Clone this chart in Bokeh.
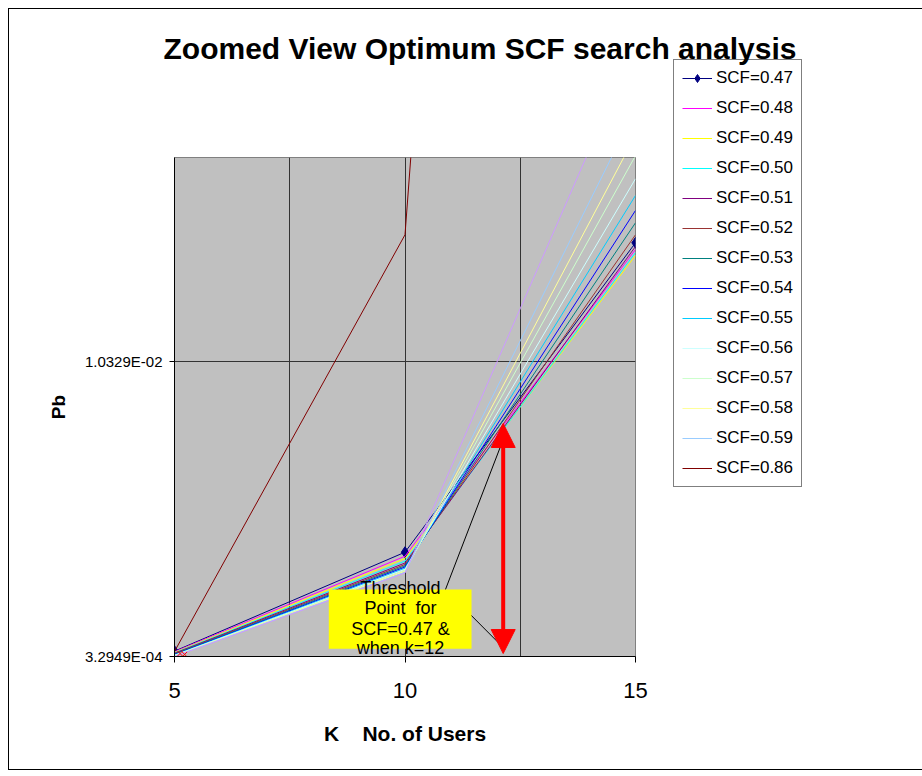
from bokeh.plotting import figure
from bokeh.embed import file_html
from bokeh.resources import INLINE
from bokeh.models import (Range1d, FixedTicker, CustomJSTickFormatter, Legend, LegendItem,
                          Label, BoxAnnotation, Arrow, NormalHead, Title)

# ---------------- data ----------------
k_users = [5, 10, 15]

pb_047 = [5.10e-4, 3.865e-3, 1.4353e-2]
pb_048 = [4.90e-4, 3.729e-3, 1.4126e-2]
pb_049 = [4.70e-4, 3.652e-3, 1.3923e-2]
pb_050 = [4.55e-4, 3.560e-3, 1.4024e-2]
pb_051 = [4.40e-4, 3.499e-3, 1.4228e-2]
pb_052 = [4.25e-4, 3.448e-3, 1.4624e-2]
pb_053 = [4.10e-4, 3.404e-3, 1.5031e-2]
pb_054 = [3.95e-4, 3.363e-3, 1.5448e-2]
pb_055 = [3.80e-4, 3.323e-3, 1.5956e-2]
pb_056 = [3.70e-4, 3.285e-3, 1.6523e-2]
pb_057 = [3.60e-4, 3.252e-3, 1.7306e-2]
pb_058 = [3.50e-4, 3.218e-3, 1.7998e-2]
pb_059 = [3.40e-4, 3.184e-3, 1.8882e-2]
pb_060 = [3.2949e-4, 3.160e-3, 2.1089e-2]   # drawn, no legend entry
pb_086 = [5.00e-4, 1.4624e-2, 1.19e-1]

series_labels = ["SCF=0.47", "SCF=0.48", "SCF=0.49", "SCF=0.50", "SCF=0.51", "SCF=0.52",
                 "SCF=0.53", "SCF=0.54", "SCF=0.55", "SCF=0.56", "SCF=0.57", "SCF=0.58",
                 "SCF=0.59", None, "SCF=0.86"]
series_values = [pb_047, pb_048, pb_049, pb_050, pb_051, pb_052, pb_053, pb_054, pb_055,
                 pb_056, pb_057, pb_058, pb_059, pb_060, pb_086]
series_colors = ["#000080", "#FF00FF", "#FFFF00", "#00FFFF", "#800080", "#993333",
                 "#008080", "#0000FF", "#00CCFF", "#CCFFFF", "#CCFFCC", "#FFFF99",
                 "#99CCFF", "#CC99FF", "#800000"]

extra_marker_k = [5.12, 5.22]
extra_marker_pb = [4.3e-4, 4.0e-4]

y_ticks = [3.2949e-4, 1.0329e-2]
x_ticks = [5, 10, 15]
x_grid = [5, 7.5, 10, 12.5, 15]

threshold_k = 12.13
threshold_low = 4.3e-4
threshold_high = 8.228e-3

FONT = "Liberation Sans"
Y_MIN = 3.2949e-4
Y_MAX = 1.7244e-2

p = figure(frame_width=461, frame_height=499, output_backend="svg", toolbar_location=None,
           x_range=Range1d(5, 15), y_range=Range1d(Y_MIN, Y_MAX),
           min_border_left=165, min_border_right=278, min_border_top=148, min_border_bottom=113,
           title=None)
p.margin = (8, 0, 0, 8)
p.styles = {"border": "1px solid black"}
p.background_fill_color = "#C0C0C0"
p.border_fill_color = "white"
p.outline_line_color = "#808080"

spacer = Title(text=" ", standoff=80, text_font=FONT, text_font_size="10px")
p.add_layout(spacer, "above")
title = Title(text="Zoomed View Optimum SCF search analysis", align="left", offset=-11,
              standoff=0, text_font=FONT, text_font_size="30px", text_font_style="bold",
              text_color="black")
p.add_layout(title, "above")

# axes
p.xaxis.ticker = FixedTicker(ticks=x_ticks)
p.yaxis.ticker = FixedTicker(ticks=y_ticks)
p.yaxis.formatter = CustomJSTickFormatter(code="""
  const s = tick.toExponential(4);
  const parts = s.split('e');
  const e = parseInt(parts[1]);
  const sign = e < 0 ? '-' : '+';
  const d = String(Math.abs(e)).padStart(2, '0');
  return parts[0] + 'E' + sign + d;
""")
for ax in (p.xaxis[0], p.yaxis[0]):
    ax.axis_line_color = "black"
    ax.major_tick_line_color = "black"
    ax.minor_tick_line_color = None
    ax.major_tick_in = 0
    ax.major_label_text_font = FONT
    ax.major_label_text_color = "black"
    ax.axis_label_text_font = FONT
    ax.axis_label_text_font_style = "bold"
    ax.axis_label_text_color = "black"
p.xaxis.major_tick_out = 6
p.yaxis.major_tick_out = 5
p.xaxis.major_label_text_font_size = "22px"
p.yaxis.major_label_text_font_size = "15px"
p.xaxis.major_label_standoff = 20
p.yaxis.major_label_standoff = 7
p.xaxis.axis_label = "K\u00a0\u00a0\u00a0\u00a0No. of Users"
p.xaxis.axis_label_text_font_size = "21px"
p.xaxis.axis_label_standoff = 21
p.yaxis.axis_label = "Pb"
p.yaxis.axis_label_text_font_size = "19px"
p.yaxis.axis_label_standoff = 13

# grids
p.xgrid.ticker = FixedTicker(ticks=x_grid)
p.ygrid.ticker = FixedTicker(ticks=[y_ticks[1]])
p.xgrid.grid_line_color = "#333333"
p.ygrid.grid_line_color = "#333333"

# series
items = []
for lab, vals, col in zip(series_labels, series_values, series_colors):
    r = p.line(k_users, vals, line_color=col, line_width=1)
    rs = [r]
    if lab == "SCF=0.47":
        m = p.scatter(k_users, vals, marker="diamond", size=11,
                      fill_color=col, line_color=col)
        rs.append(m)
    if lab is not None:
        items.append(LegendItem(label=lab, renderers=rs))

p.scatter(extra_marker_k, extra_marker_pb, marker="x", size=7, line_color="red", line_width=1)

# annotation: yellow box, leader lines, arrow, text
box = BoxAnnotation(left=8.347, right=11.443, bottom=5.90e-4, top=2.601e-3,
                    fill_color="#FFFF00", fill_alpha=1.0, line_color=None)
p.add_layout(box)
p.segment(x0=[10.878, 10.878], y0=[2.601e-3, 2.601e-3], x1=[threshold_k, threshold_k],
          y1=[7.685e-3, 6.34e-4], line_color="black", line_width=1)
p.add_layout(Arrow(start=NormalHead(size=24, fill_color="red", line_color="red"),
                   end=NormalHead(size=24, fill_color="red", line_color="red"),
                   x_start=threshold_k, y_start=threshold_low,
                   x_end=threshold_k, y_end=threshold_high,
                   line_color="red", line_width=4))
note_lines = ["Threshold", "Point\u00a0 for", "SCF=0.47 &", "when k=12"]
note_y = [2.645e-3, 1.957e-3, 1.245e-3, 6.01e-4]
for t, yy in zip(note_lines, note_y):
    p.add_layout(Label(x=9.902, y=yy, text=t, text_align="center", text_baseline="middle",
                       text_font=FONT, text_font_size="18px", text_color="black"))

legend = Legend(items=items, location=(38, 169), label_text_font=FONT,
                label_text_font_size="17px", label_text_color="black",
                glyph_width=30, glyph_height=20, label_height=20, label_standoff=4,
                spacing=10, padding=8, margin=0,
                border_line_color="black", border_line_width=1,
                background_fill_color="white", background_fill_alpha=0.0)
p.add_layout(legend, "right")

open("out.html", "w").write(file_html(p, INLINE))
